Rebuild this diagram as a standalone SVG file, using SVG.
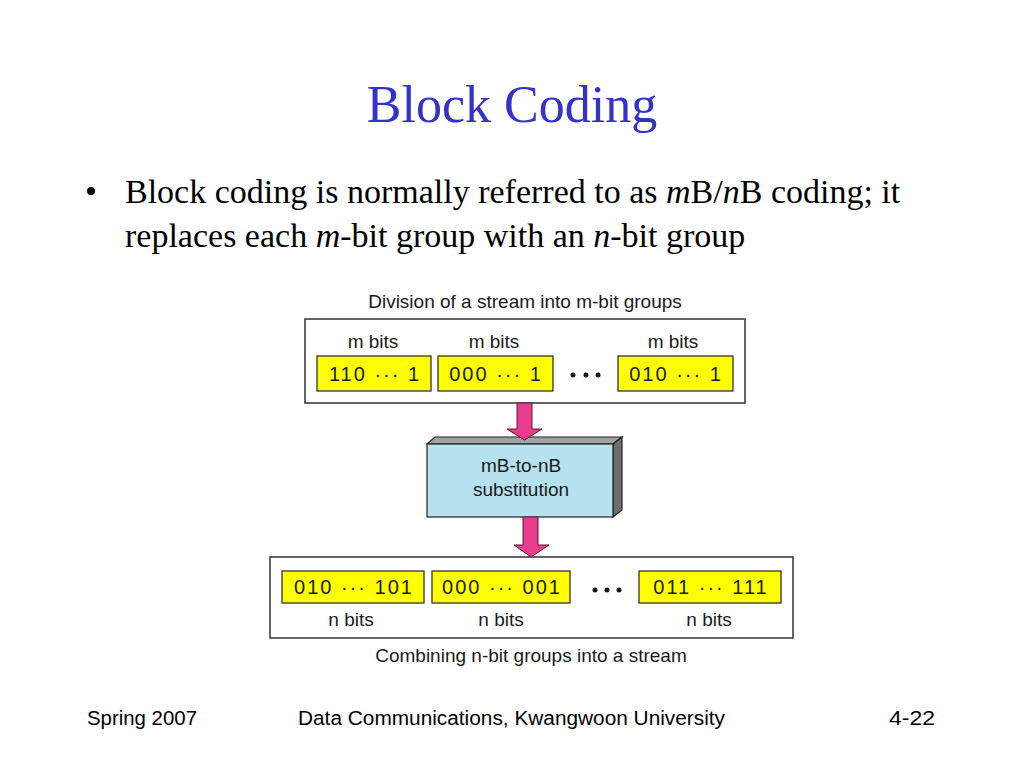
<svg xmlns="http://www.w3.org/2000/svg" width="1024" height="768" viewBox="0 0 1024 768">
<style>
.ttl{font-family:"Liberation Serif","Times New Roman",serif;font-size:52px;fill:#3333CC}
.body{font-family:"Liberation Serif","Times New Roman",serif;font-size:34px;fill:#000}
.foot{font-family:"Liberation Sans",Arial,sans-serif;font-size:20px;fill:#000}
.lbl{font-family:"Liberation Sans",Arial,sans-serif;font-size:19px;fill:#1a1a1a;text-anchor:middle}
.bits{font-family:"Liberation Sans",Arial,sans-serif;font-size:20px;fill:#1a1a1a;text-anchor:middle;letter-spacing:2px}
.frame{fill:#fff;stroke:#333;stroke-width:1.5}
.yel{fill:#FFFF00;stroke:#333;stroke-width:1.3}
.arrow{fill:#E83D8C;stroke:#5a1a3a;stroke-width:1}
.dot{fill:#1a1a1a}
</style>
<rect width="1024" height="768" fill="#fff"/>
<text class="ttl" x="512" y="122" text-anchor="middle">Block Coding</text>
<text class="body" x="85" y="203">•</text>
<text class="body" x="125" y="203">Block coding is normally referred to as <tspan font-style="italic">m</tspan>B/<tspan font-style="italic">n</tspan>B coding; it</text>
<text class="body" x="125" y="247">replaces each <tspan font-style="italic">m</tspan>-bit group with an <tspan font-style="italic">n</tspan>-bit group</text>

<g id="top-stream">
<text class="lbl" x="525" y="308">Division of a stream into m-bit groups</text>
<rect class="frame" x="305" y="319" width="440" height="84"/>
<text class="lbl" x="373" y="348">m bits</text>
<text class="lbl" x="494" y="348">m bits</text>
<text class="lbl" x="673" y="348">m bits</text>
<rect class="yel" x="317" y="356" width="114" height="35"/>
<rect class="yel" x="438" y="356" width="115" height="35"/>
<rect class="yel" x="618" y="356" width="115" height="35"/>
<text class="bits" x="375" y="381">110 ··· 1</text>
<text class="bits" x="496" y="381">000 ··· 1</text>
<text class="bits" x="676" y="381">010 ··· 1</text>
<circle class="dot" cx="573" cy="375" r="2.5"/>
<circle class="dot" cx="586" cy="375" r="2.5"/>
<circle class="dot" cx="598" cy="375" r="2.5"/>
</g>

<g id="substitution">
<polygon points="427,444 435,437 622,437 613,444" fill="#A3A3A3" stroke="#222" stroke-width="1.2"/>
<polygon points="613,444 622,437 622,510 613,517" fill="#6E6E6E" stroke="#222" stroke-width="1.2"/>
<rect x="427" y="444" width="186" height="73" fill="#B6E1EE" stroke="#222" stroke-width="1.2"/>
<text class="lbl" x="521" y="472">mB-to-nB</text>
<text class="lbl" x="521" y="496">substitution</text>
</g>

<g id="bottom-stream">
<rect class="frame" x="270" y="557" width="523" height="81"/>
<rect class="yel" x="282" y="571" width="142" height="32"/>
<rect class="yel" x="432" y="571" width="138" height="32"/>
<rect class="yel" x="639" y="571" width="142" height="32"/>
<text class="bits" x="354" y="594">010 ··· 101</text>
<text class="bits" x="502" y="594">000 ··· 001</text>
<text class="bits" x="711" y="594">011 ··· 111</text>
<circle class="dot" cx="595" cy="590" r="2.5"/>
<circle class="dot" cx="607" cy="590" r="2.5"/>
<circle class="dot" cx="619" cy="590" r="2.5"/>
<text class="lbl" x="351" y="626">n bits</text>
<text class="lbl" x="501" y="626">n bits</text>
<text class="lbl" x="709" y="626">n bits</text>
<text class="lbl" x="531" y="662">Combining n-bit groups into a stream</text>
</g>

<g id="connectors">
<polygon class="arrow" points="517,403 532,403 532,429 542,429 524.5,440 507,429 517,429"/>
<polygon class="arrow" points="523,517 538,517 538,545 549,545 531,557 514,545 523,545"/>
</g>

<text class="foot" x="87" y="725" textLength="110" lengthAdjust="spacingAndGlyphs">Spring 2007</text>
<text class="foot" x="298" y="725" textLength="427" lengthAdjust="spacingAndGlyphs">Data Communications, Kwangwoon University</text>
<text class="foot" x="889" y="725" textLength="46" lengthAdjust="spacingAndGlyphs">4-22</text>
</svg>
